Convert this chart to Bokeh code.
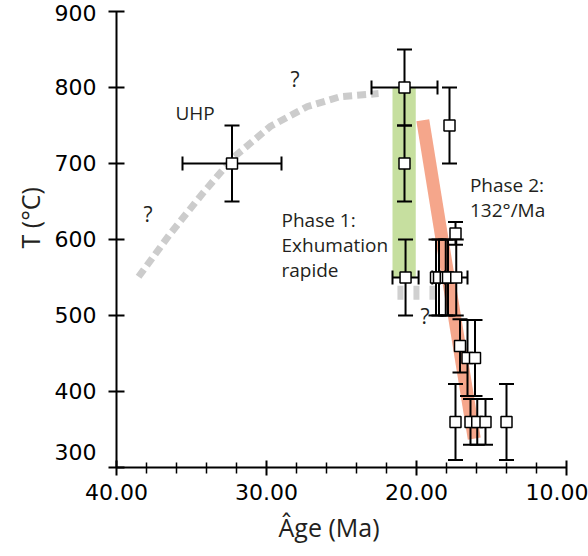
import math
from bokeh.plotting import figure
from bokeh.models import Range1d, FixedTicker, Label, NumeralTickFormatter, ColumnDataSource, Title
from bokeh.embed import file_html
from bokeh.resources import INLINE

# ---- data ----
age      = [32.3, 20.8, 20.8, 17.8, 20.73, 18.7, 18.5, 18.05, 17.9, 17.35, 17.4, 17.1, 16.6, 16.1, 17.4, 16.4, 15.95, 15.4, 14.0]
temp     = [700, 800, 700, 750, 550, 550, 550, 550, 550, 550, 608, 460, 444, 444, 360, 360, 360, 360, 360]
age_err  = [3.3, 2.2, 0, 0, 0.87, 0.25, 0, 0, 0, 0.75, 0, 0, 0, 0, 0, 0, 0, 0, 0]
temp_err = [50, 50, 50, 50, 50, 50, 50, 50, 50, 50, 15, 35, 50, 50, 50, 30, 30, 30, 50]

# phase 1 (green band) and phase 2 (salmon trend)
phase1_age = [21.6, 20.05]
phase1_temp = [550, 800]
phase2_age = [19.58, 16.15]
phase2_temp = [757, 338]

# speculative UHP path (grey dashed)
path_age = [38.53, 36.4, 34.2, 32.2, 29.73, 27.27, 25.07, 22.53]
path_temp = [551, 608, 662, 708, 749, 775, 788, 792]
low_path_age = [21.27, 18.73]
low_path_temp = [530, 530]

x_major = [40, 30, 20, 10]
x_minor = [38, 36, 34, 32, 28, 26, 24, 22, 18, 16, 14, 12]
y_ticks = [300, 400, 500, 600, 700, 800, 900]

TXT = "#231f20"
FONT = "Open Sans"

p = figure(frame_width=450, frame_height=456,
           x_range=Range1d(40, 10), y_range=Range1d(300, 900),
           output_backend="svg", toolbar_location=None,
           min_border_left=116, min_border_right=22,
           min_border_top=11, min_border_bottom=88)
p.outline_line_color = None
p.xgrid.visible = False
p.ygrid.visible = False
p.background_fill_color = "white"
p.border_fill_color = "white"

# axes
xa = p.xaxis[0]
xa.ticker = FixedTicker(ticks=x_major, minor_ticks=x_minor)
xa.formatter = NumeralTickFormatter(format="0.00")
xa.axis_line_width = 2
xa.major_tick_line_width = 2
xa.minor_tick_line_width = 1.5
xa.major_tick_in = 7
xa.major_tick_out = 8
xa.minor_tick_in = 5
xa.minor_tick_out = 6
xa.major_label_text_font = "DejaVu Sans"
xa.major_label_text_font_size = "22px"
xa.major_label_text_color = "black"
xa.major_label_standoff = 8

ya = p.yaxis[0]
ya.ticker = FixedTicker(ticks=y_ticks, minor_ticks=[])
ya.major_label_overrides = {300: "300\n"}
ya.axis_line_width = 2
ya.major_tick_line_width = 2
ya.major_tick_in = 8
ya.major_tick_out = 8
ya.major_label_text_font = "DejaVu Sans"
ya.major_label_text_font_size = "22px"
ya.major_label_text_color = "black"
ya.major_label_standoff = 12

# axis titles
p.add_layout(Title(text="T (°C)", align="left", offset=219, text_font=FONT,
                   text_font_size="25px", text_font_style="normal", text_color=TXT,
                   standoff=10), "left")
p.add_layout(Title(text="Âge (Ma)", align="left", offset=162, text_font=FONT,
                   text_font_size="25px", text_font_style="normal", text_color=TXT,
                   standoff=10), "below")

# bands
p.quad(left=[phase1_age[0]], right=[phase1_age[1]], bottom=[phase1_temp[0]], top=[phase1_temp[1]],
       fill_color="#c6df9f", line_color=None)
p.line(phase2_age, phase2_temp, line_color="#f5a68b", line_width=13, line_cap="butt")
p.line(path_age, path_temp, line_color="#cccccc", line_width=7, line_dash="9 5", line_cap="butt")
p.line(low_path_age, low_path_temp, line_color="#d0d0d0", line_width=14, line_dash="6 10", line_cap="butt")

# error bars
src = ColumnDataSource(dict(
    x=age, y=temp,
    ylo=[t - e for t, e in zip(temp, temp_err)],
    yhi=[t + e for t, e in zip(temp, temp_err)],
))
p.segment(x0="x", y0="ylo", x1="x", y1="yhi", source=src, line_color="black", line_width=2)
p.scatter(x="x", y="ylo", source=src, marker="dash", size=15, line_color="black", line_width=2)
p.scatter(x="x", y="yhi", source=src, marker="dash", size=15, line_color="black", line_width=2)

xe = [(a, t, e) for a, t, e in zip(age, temp, age_err) if e > 0]
xsrc = ColumnDataSource(dict(
    y=[t for a, t, e in xe],
    xlo=[a - e for a, t, e in xe],
    xhi=[a + e for a, t, e in xe],
))
p.segment(x0="xlo", y0="y", x1="xhi", y1="y", source=xsrc, line_color="black", line_width=2)
p.scatter(x="xlo", y="y", source=xsrc, marker="dash", angle=math.pi / 2, size=14, line_color="black", line_width=2)
p.scatter(x="xhi", y="y", source=xsrc, marker="dash", angle=math.pi / 2, size=14, line_color="black", line_width=2)

p.scatter(x="x", y="y", source=src, marker="square", size=11,
          fill_color="white", line_color="black", line_width=1.5)

# annotations
def lab(x, y, text, size="19px", align="left", baseline="alphabetic"):
    p.add_layout(Label(x=x, y=y, text=text, text_font=FONT, text_font_size=size,
                       text_align=align, text_baseline=baseline, text_color=TXT))

lab(36.07, 767, "UHP")
lab(29.0, 626, "Phase 1:")
lab(29.0, 593, "Exhumation")
lab(29.0, 560, "rapide")
lab(16.44, 672, "Phase 2:")
lab(16.44, 639, "132°/Ma")
lab(28.4, 811, "?", size="21px")
lab(38.2, 633, "?", size="21px")
lab(19.73, 499, "?", size="21px")

open("out.html", "w").write(file_html(p, INLINE))
